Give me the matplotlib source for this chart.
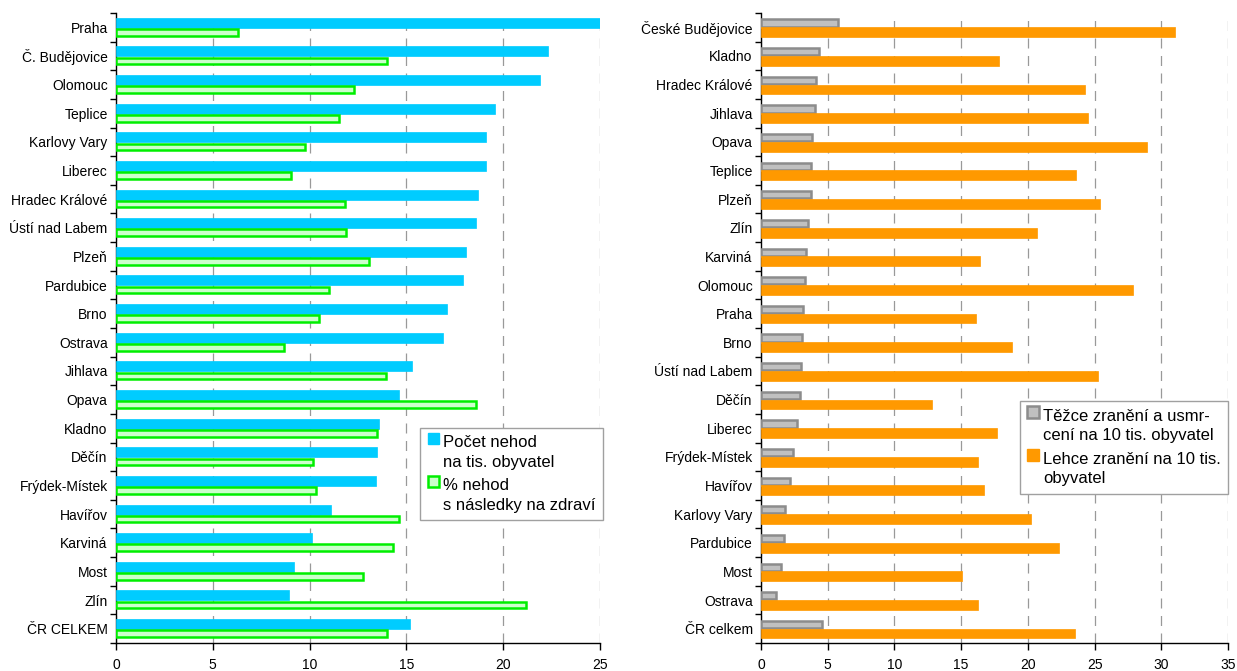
import matplotlib
matplotlib.use("Agg")
import matplotlib.pyplot as plt
import numpy as np
from matplotlib.patches import Patch, Rectangle
from matplotlib.legend_handler import HandlerPatch
from matplotlib.ticker import FixedLocator, NullFormatter

plt.rcParams['font.family'] = ['Liberation Sans', 'DejaVu Sans']

# --- Left panel: accidents per 1000 inhabitants and share with injuries ---
cities_left = ["Praha", "Č. Budějovice", "Olomouc", "Teplice", "Karlovy Vary", "Liberec",
               "Hradec Králové", "Ústí nad Labem", "Plzeň", "Pardubice", "Brno", "Ostrava",
               "Jihlava", "Opava", "Kladno", "Děčín", "Frýdek-Místek", "Havířov",
               "Karviná", "Most", "Zlín", "ČR CELKEM"]
accidents_per_1000 = [25.0, 22.3, 21.9, 19.6, 19.1, 19.1, 18.7, 18.6, 18.1, 17.9, 17.1, 16.9,
                      15.3, 14.6, 13.6, 13.5, 13.45, 11.1, 10.1, 9.2, 8.95, 15.2]
pct_with_injury = [6.3, 14.0, 12.3, 11.5, 9.75, 9.05, 11.85, 11.9, 13.05, 11.0, 10.5, 8.7,
                   13.95, 18.6, 13.5, 10.2, 10.35, 14.6, 14.3, 12.75, 21.2, 14.0]

# --- Right panel: injured per 10 000 inhabitants ---
cities_right = ["České Budějovice", "Kladno", "Hradec Králové", "Jihlava", "Opava", "Teplice",
                "Plzeň", "Zlín", "Karviná", "Olomouc", "Praha", "Brno", "Ústí nad Labem",
                "Děčín", "Liberec", "Frýdek-Místek", "Havířov", "Karlovy Vary", "Pardubice",
                "Most", "Ostrava", "ČR celkem"]
serious_or_killed = [5.75, 4.37, 4.1, 4.01, 3.8, 3.78, 3.78, 3.54, 3.39, 3.27, 3.16, 3.07,
                     3.01, 2.92, 2.68, 2.42, 2.21, 1.83, 1.71, 1.53, 1.12, 4.6]
slightly_injured = [31.0, 17.85, 24.3, 24.5, 28.9, 23.6, 25.4, 20.7, 16.45, 27.9, 16.1, 18.8,
                    25.25, 12.85, 17.65, 16.25, 16.75, 20.2, 22.3, 15.05, 16.3, 23.55]

left_labels = ["Počet nehod\nna tis. obyvatel", "% nehod\ns následky na zdraví"]
right_labels = ["Těžce zranění a usmr-\ncení na 10 tis. obyvatel", "Lehce zranění na 10 tis.\nobyvatel"]

BLUE = "#00ccff"
GREEN_FILL = "#ccffcc"
GREEN_EDGE = "#00ee00"
GRAY_FILL = "#c0c0c0"
GRAY_EDGE = "#8c8c8c"
ORANGE = "#ff9900"

fig = plt.figure(figsize=(12.37, 6.71), dpi=100)
ax1 = fig.add_axes([116 / 1237, 28 / 671, 484 / 1237, 630 / 671])
ax2 = fig.add_axes([761 / 1237, 28 / 671, 467 / 1237, 630 / 671])


def top_square(legend, orig_handle, xdescent, ydescent, width, height, fontsize):
    # legend key aligned with the first line of a two-line label
    side = 0.68 * fontsize
    return Rectangle((-xdescent, -ydescent + 0.85 * fontsize), side, side)


def style_axis(ax, n, xmax):
    ax.set_xlim(0, xmax)
    ax.set_ylim(n - 0.5, -0.5)
    for s in ("top", "right"):
        ax.spines[s].set_visible(False)
    ax.spines["left"].set_linewidth(1.0)
    ax.spines["bottom"].set_linewidth(1.0)
    ax.set_xticks(np.arange(0, xmax + 0.1, 5))
    ax.set_yticks(np.arange(n))
    ax.yaxis.set_minor_locator(FixedLocator(np.arange(-0.5, n, 1.0)))
    ax.yaxis.set_minor_formatter(NullFormatter())
    ax.tick_params(axis="y", which="major", length=0, labelsize=10, pad=6)
    ax.tick_params(axis="y", which="minor", length=4, width=1, direction="out")
    ax.tick_params(axis="x", which="major", length=5, width=1, direction="out", labelsize=10, pad=6)
    ax.grid(axis="x", color="#999999", linestyle=(0, (8, 6)), linewidth=0.9)
    ax.set_axisbelow(True)


def add_legend(ax, handles, labels, anchor):
    leg = ax.legend(handles, labels, loc="lower right", bbox_to_anchor=anchor,
                    fontsize=12, frameon=True, fancybox=False, framealpha=1, edgecolor="#a0a0a0",
                    handlelength=0.68, handleheight=0.68, handletextpad=0.25, labelspacing=0.5,
                    borderpad=0.45, borderaxespad=0,
                    handler_map={Patch: HandlerPatch(patch_func=top_square)})
    for t in leg.get_texts():
        t.set_linespacing(1.38)
    leg.get_frame().set_linewidth(1.0)
    return leg


n = len(cities_left)
y = np.arange(n)
ax1.barh(y - 0.16, accidents_per_1000, height=0.35, color=BLUE, edgecolor=BLUE, linewidth=0.5, zorder=3)
ax1.barh(y + 0.175, pct_with_injury, height=0.23, color=GREEN_FILL, edgecolor=GREEN_EDGE, linewidth=1.8, zorder=3)
style_axis(ax1, n, 25)
ax1.set_yticklabels(cities_left)
h1 = [Patch(facecolor=BLUE, edgecolor=BLUE),
      Patch(facecolor=GREEN_FILL, edgecolor=GREEN_EDGE, linewidth=1.8)]
add_legend(ax1, h1, left_labels, (1.006, 0.195))

m = len(cities_right)
y2 = np.arange(m)
ax2.barh(y2 - 0.15, serious_or_killed, height=0.25, color=GRAY_FILL, edgecolor=GRAY_EDGE, linewidth=1.8, zorder=3)
ax2.barh(y2 + 0.17, slightly_injured, height=0.34, color=ORANGE, edgecolor=ORANGE, linewidth=0.5, zorder=3)
style_axis(ax2, m, 35)
ax2.set_yticklabels(cities_right)
h2 = [Patch(facecolor=GRAY_FILL, edgecolor=GRAY_EDGE, linewidth=1.8),
      Patch(facecolor=ORANGE, edgecolor=ORANGE)]
add_legend(ax2, h2, right_labels, (1.0, 0.237))

fig.savefig("out.png", dpi=100, facecolor="white")
